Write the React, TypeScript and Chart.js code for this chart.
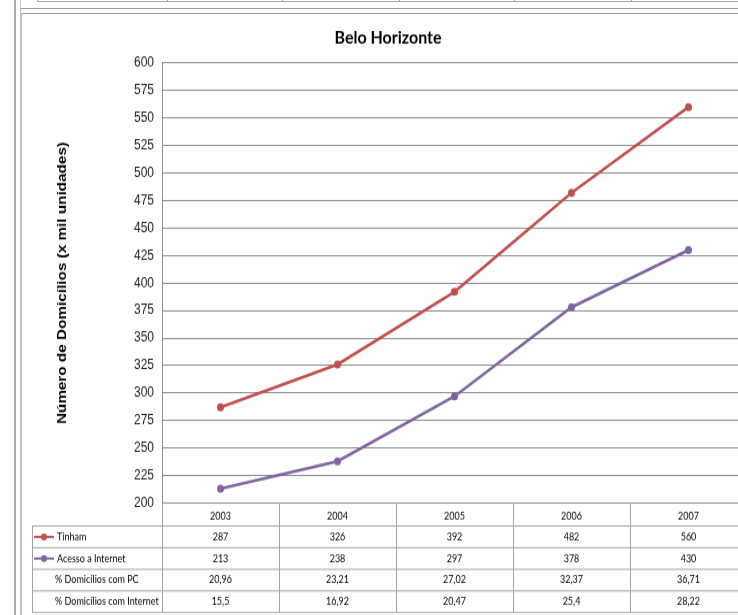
import React, { useEffect, useRef } from "react";
import { Chart, registerables } from "chart.js";

Chart.register(...registerables);

// Anos (categorias) e séries
const years = ["2003", "2004", "2005", "2006", "2007"];
const tinham = [287, 326, 392, 482, 560];
const acessoInternet = [213, 238, 297, 378, 430];
const pctDomiciliosPC = [20.96, 23.21, 27.02, 32.37, 36.71];
const pctDomiciliosInternet = [15.5, 16.92, 20.47, 25.4, 28.22];

const yTicksMin = 200;
const yTicksMax = 600;
const yTicksStep = 25;

const RED = "#C0504D";
const PURPLE = "#8064A2";
const ARIAL = '"Liberation Sans", Arial, sans-serif';
const CALIBRI = 'Lato, "Open Sans", sans-serif';

// A folha é exibida com um leve alongamento vertical
const STRETCH_Y = 1.15;
const CANVAS_W = 732;
const CANVAS_H = Math.round(599 / STRETCH_Y);

const fmtBR = (v: number) => String(v).replace(".", ",");

type TableRow = { label: string; color?: string; values: string[] };

const tableRows: TableRow[] = [
  { label: "Tinham", color: RED, values: tinham.map(String) },
  { label: "Acesso a Internet", color: PURPLE, values: acessoInternet.map(String) },
  { label: "% Domicílios com PC", values: pctDomiciliosPC.map(fmtBR) },
  { label: "% Domicílios com Internet", values: pctDomiciliosInternet.map(fmtBR) },
];

// Tabela de dados desenhada sob o eixo das categorias
const dataTablePlugin = {
  id: "dataTable",
  afterDraw(chart: any) {
    const { ctx, chartArea } = chart;
    const n = years.length;
    const left = chartArea.left;
    const right = chartArea.right;
    const colW = (right - left) / n;
    const top = chartArea.bottom;
    const headerH = 20;
    const rowH = 18.8;
    const rowTops = [top, top + headerH];
    for (let i = 1; i <= tableRows.length; i++) rowTops.push(top + headerH + rowH * i);
    const bottom = rowTops[rowTops.length - 1];
    const labelLeft = 10;
    const crispX = (v: number) => Math.round(v) + 0.5;

    ctx.save();
    ctx.strokeStyle = "#a3a3a3";
    ctx.lineWidth = 1;
    ctx.beginPath();
    for (let r = 1; r < rowTops.length; r++) {
      ctx.moveTo(labelLeft, rowTops[r]);
      ctx.lineTo(chart.width, rowTops[r]);
    }
    ctx.moveTo(crispX(labelLeft), rowTops[1]);
    ctx.lineTo(crispX(labelLeft), bottom);
    for (let i = 0; i <= n; i++) {
      const x = crispX(left + colW * i);
      ctx.moveTo(x, top);
      ctx.lineTo(x, bottom);
    }
    ctx.stroke();

    ctx.font = `9px ${CALIBRI}`;
    ctx.fillStyle = "#000";
    ctx.textBaseline = "middle";
    tableRows.forEach((row, r) => {
      const cy = (rowTops[r + 1] + rowTops[r + 2]) / 2;
      if (row.color) {
        ctx.strokeStyle = row.color;
        ctx.lineWidth = 2;
        ctx.beginPath();
        ctx.moveTo(12, cy);
        ctx.lineTo(32, cy);
        ctx.stroke();
        ctx.fillStyle = row.color;
        ctx.beginPath();
        ctx.arc(22, cy, 3, 0, Math.PI * 2);
        ctx.fill();
        ctx.fillStyle = "#000";
        ctx.textAlign = "left";
        ctx.fillText(row.label, 35, cy);
      } else {
        ctx.textAlign = "left";
        ctx.fillText(row.label, 33, cy);
      }
      ctx.textAlign = "center";
      row.values.forEach((v, i) => {
        ctx.fillText(v, chart.scales.x.getPixelForValue(i), cy);
      });
    });
    ctx.restore();
  },
};

function LineChart() {
  const ref = useRef<HTMLCanvasElement | null>(null);

  useEffect(() => {
    if (!ref.current) return;
    const lineStyle = {
      borderWidth: 2.6,
      pointRadius: 3.5,
      pointHoverRadius: 3.5,
      pointBorderWidth: 0,
      tension: 0,
    };
    const chart = new Chart(ref.current, {
      type: "line",
      data: {
        labels: years,
        datasets: [
          { label: "Tinham", data: tinham, borderColor: RED, backgroundColor: RED, ...lineStyle },
          {
            label: "Acesso a Internet",
            data: acessoInternet,
            borderColor: PURPLE,
            backgroundColor: PURPLE,
            ...lineStyle,
          },
        ],
      },
      options: {
        responsive: false,
        animation: false,
        devicePixelRatio: 1,
        events: [],
        layout: { padding: { left: 7, right: 7, top: 0, bottom: 0 } },
        plugins: {
          legend: { display: false },
          tooltip: { enabled: false },
          title: {
            display: true,
            text: "Belo Horizonte",
            color: "#000",
            font: { family: CALIBRI, size: 16, weight: "bold" },
            padding: { top: 9.5, bottom: 12.2 },
          },
        },
        scales: {
          x: {
            offset: true,
            grid: { display: false, drawTicks: false },
            border: { display: false },
            ticks: { color: "#000", font: { family: CALIBRI, size: 9 }, padding: 5.9, maxRotation: 0 },
            afterFit(scale: any) {
              scale.height = CANVAS_H - 423.5;
            },
          },
          y: {
            min: yTicksMin,
            max: yTicksMax,
            ticks: { stepSize: yTicksStep, color: "#222", font: { family: ARIAL, size: 12 }, padding: 8 },
            grid: { color: "#8c8c8c", drawTicks: false, tickLength: 0 },
            border: { color: "#8c8c8c" },
            title: {
              display: true,
              text: "Número de Domicílios (x mil unidades)",
              color: "#000",
              font: { family: ARIAL, size: 13.3, weight: "bold" },
              padding: { top: 25, bottom: 0 },
            },
            afterFit(scale: any) {
              scale.width = 133;
            },
          },
        },
      },
      plugins: [dataTablePlugin],
    } as any);
    return () => chart.destroy();
  }, []);

  return (
    <div
      style={{
        position: "absolute",
        left: 22,
        top: 16,
        width: CANVAS_W,
        height: CANVAS_H,
        transform: `scaleY(${STRETCH_Y})`,
        transformOrigin: "0 0",
      }}
    >
      <canvas ref={ref} width={CANVAS_W} height={CANVAS_H} />
    </div>
  );
}

export default function App() {
  const line = (style: React.CSSProperties) => <div style={{ position: "absolute", ...style }} />;
  const stripCols = [37, 167, 282, 399, 514, 631];
  return (
    <div
      style={{
        position: "fixed",
        left: 0,
        top: 0,
        width: 738,
        height: 615,
        overflow: "hidden",
        background: "#fff",
      }}
    >
      {/* moldura externa e faixa da tabela acima */}
      {line({ left: 14, top: 0, width: 2, height: 615, background: "#a9a9a9" })}
      {line({ left: 20, top: 0, width: 1, height: 615, background: "#c4c4c4" })}
      {line({ left: 37, top: 1, width: 701, height: 1, background: "#a9a9a9" })}
      {stripCols.map((x) => (
        <React.Fragment key={x}>{line({ left: x, top: 0, width: 1, height: 2, background: "#a9a9a9" })}</React.Fragment>
      ))}
      {line({ left: 20, top: 8, width: 718, height: 1, background: "#a0a0a0" })}
      {line({ left: 21, top: 13, width: 717, height: 1, background: "#9a9a9a" })}
      {line({ left: 21, top: 13, width: 1, height: 602, background: "#bcbcbc" })}
      <LineChart />
    </div>
  );
}
